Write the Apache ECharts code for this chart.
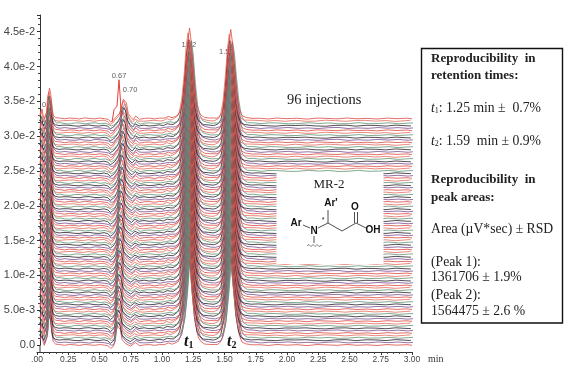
<!DOCTYPE html>
<html><head><meta charset="utf-8">
<style>html,body{margin:0;padding:0;background:#fff}#c{width:572px;height:376px;filter:blur(0.3px)}</style>
<script src="https://cdn.jsdelivr.net/npm/echarts@6/dist/echarts.min.js"></script>
</head><body><div id="c"></div>
<script>
const xTickLabels = {'0.00':'.00','0.25':'0.25','0.50':'0.50','0.75':'0.75','1.00':'1.00','1.25':'1.25','1.50':'1.50','1.75':'1.75','2.00':'2.00','2.25':'2.25','2.50':'2.50','2.75':'2.75','3.00':'3.00'};
const yTickLabels = {'0.000':'0.0','0.005':'5.0e-3','0.010':'1.0e-2','0.015':'1.5e-2','0.020':'2.0e-2','0.025':'2.5e-2','0.030':'3.0e-2','0.035':'3.5e-2','0.040':'4.0e-2','0.045':'4.5e-2'};
// retention time of each sampled point (min)
const times = [
 .024,.03,.04,.05,.058,.07,.08,.09,.10,.11,.12,.13,.15,
 .18,.22,.26,.30,.34,.38,.42,.46,.50,.54,
 .57,.59,.61,.63,.645,.66,.675,.69,.70,.715,.73,.75,
 .77,.79,.82,.86,.90,.94,.98,1.02,1.05,1.08,1.10,
 1.13,1.15,1.17,1.19,1.205,1.22,1.235,1.25,1.27,1.29,1.31,1.34,1.38,
 1.42,1.44,
 1.46,1.48,1.50,1.52,1.535,1.55,1.565,1.58,1.60,1.62,1.64,1.67,1.72,
 1.78,1.85,1.92,2.0,2.08,2.16,2.24,2.32,2.40,2.48,2.56,2.64,2.72,2.80,2.88,2.96,3.0];
// chromatogram signal above baseline, in 1e-5 units
const peakShape = [
 60,90,130,40,-10,-20,110,340,430,350,150,50,10,
 2,0,0,0,0,0,0,0,0,0,
 -15,-45,-30,10,30,70,150,270,300,220,80,15,
 -20,30,-8,0,0,2,3,8,25,15,22,
 55,130,320,700,1080,1300,1080,700,300,120,50,18,6,
 3,8,
 25,90,280,680,1060,1280,1080,760,360,130,45,14,4,
 0,0,0,0,0,0,0,0,0,0,0,0,0,0,0,0,0];
// how strongly the 0.67-0.70 min peak follows the drift list
const earlyWeight = [
 0,0,0,0,0,0,0,0,0,0,0,0,0,
 0,0,0,0,0,0,0,0,0,0,
 0,0,.1,.3,.6,1,1.3,1.4,1.4,1.4,1.4,1.1,
 .6,.1,0,0,0,0,0,0,0,0,0,
 0,0,0,0,0,0,0,0,0,0,0,0,0,
 0,0,
 0,0,0,0,0,0,0,0,0,0,0,0,0,
 0,0,0,0,0,0,0,0,0,0,0,0,0,0,0,0,0];
// baseline noise of five kinds of injection, 1e-5 units
const noiseA = [
 5,-8,10,-4,6,-9,4,-12,8,-6,10,-5,3,
 6,-5,9,3,-8,11,2,-7,8,-3,
 3,-6,4,8,-7,5,-3,9,-4,6,-8,2,
 4,7,-3,2,8,-9,4,-3,6,-4,3,
 -5,8,-9,12,-6,0,10,-8,7,-5,3,-4,2,
 5,-3,
 4,-6,8,-10,6,0,-12,9,-7,5,-4,3,-2,
 5,-8,9,-3,6,-11,8,2,-6,9,-5,3,-9,8,-3,6,-5];
const noiseB = [
 -6,7,-12,5,-3,8,-5,10,-14,7,-8,4,-2,
 -5,8,-3,-9,6,-2,-11,8,3,-6,
 -2,5,-7,3,6,-9,8,-5,12,-7,4,-3,
 -6,2,5,-6,-2,9,-8,6,-7,2,-3,
 6,-4,10,-14,8,-18,5,12,-6,8,-4,5,-3,
 -4,6,
 -5,7,-6,11,-8,-16,7,-10,8,-6,5,-2,4,
 -8,5,-2,11,-6,3,-9,6,11,-8,2,-5,9,-3,8,-6,3];
const noiseC = [
 9,-4,3,-11,7,4,-9,6,14,-10,3,-7,5,
 -2,9,6,-5,-9,5,11,-3,-8,6,
 6,-2,3,-8,9,4,-10,3,-6,9,-2,5,
 -3,-5,4,9,-6,-3,11,-9,3,5,-6,
 3,-9,6,7,-12,-30,-9,6,9,-7,6,-3,4,
 -2,4,
 6,-3,-7,5,10,-25,-6,12,-4,7,-6,4,-1,
 9,-3,-9,6,2,8,-6,-11,5,8,-9,6,3,-8,9,-2,-6];
const noiseD = [
 -3,10,-6,8,-7,-2,7,-8,-16,9,-5,8,-4,
 9,-6,-11,8,5,-9,3,9,-8,2,
 -5,3,6,-4,-2,8,-5,-7,6,3,7,-6,
 5,-2,-6,5,9,-5,-6,8,2,-7,5,
 -4,5,-12,4,14,-10,16,-5,-8,4,-7,2,-5,
 3,-6,
 -2,8,-4,-6,12,-8,18,-5,5,-8,3,-6,5,
 -6,9,5,-8,-5,11,-3,8,-9,-5,11,-6,-3,9,-8,5,8];
const noiseE = [
 2,-5,7,10,-9,5,-3,12,-5,-8,7,2,-6,
 -8,3,8,11,-5,-6,9,-8,5,11,
 4,-7,-3,6,4,-6,7,-12,-6,-4,5,7,
 -2,-8,6,-8,3,8,-5,-9,8,-4,2,
 7,-6,3,-5,9,-14,-7,-10,5,-6,2,6,-2,
 -6,2,
 3,-4,6,4,-9,-10,-8,-7,3,4,-5,-3,6,
 8,-5,6,-9,9,-8,-5,11,3,-9,6,8,-6,5,-11,3,9];
const noiseSets = [noiseA, noiseB, noiseC, noiseD, noiseE];
const peakScales = [1.00, 0.95, 0.97, 0.92, 0.98];
const timeShifts = [0.000, 0.009, -0.009, 0.014, -0.012];
// baseline of each of the 96 injections, bottom to top, 1e-5 units
const baselines = [
 0,36,70,103,138,171,207,240,275,308,343,376,412,446,479,514,548,583,616,651,
 685,718,754,787,822,855,891,924,959,992,1028,1061,1096,1130,1164,1198,1233,1266,1302,1336,
 1370,1403,1439,1472,1507,1541,1575,1609,1644,1677,1713,1746,1781,1815,1849,1883,1918,1951,1987,2020,
 2055,2089,2123,2157,2192,2225,2261,2294,2329,2362,2398,2431,2466,2500,2534,2568,2603,2636,2672,2705,
 2740,2773,2809,2842,2877,2910,2946,2979,3014,3047,3083,3116,3151,3184,3220,3253];
// shift of the 0.67-0.70 min peak per injection, 1e-3 min
const earlyDrift = [
 -35,-35,-34,-35,-34,-33,-34,-33,-33,-32,-33,-32,-31,-32,-31,-30,-31,-30,-30,-29,
 -30,-29,-28,-29,-28,-27,-28,-27,-27,-26,-27,-26,-25,-26,-25,-24,-25,-24,-24,-23,
 -24,-23,-22,-23,-22,-21,-22,-21,-21,-20,-21,-20,-19,-20,-19,-18,-19,-18,-18,-17,
 -18,-17,-16,-15,-16,-15,-14,-15,-14,-13,-14,-13,-12,-11,-12,-11,-10,-9,-10,-9,
 -8,-9,-8,-7,-6,-7,-6,-5,-4,-5,-4,-3,-2,-3,-1,0];
const traceColors = ['#de4a40','#7a4e92','#241e2a','#5f9474','#e66a5c'];
// one injection's extra early peak at 0.67 min (red outlier)
const spikeTimes = [.60,.616,.64,.656,.664,.668,.672];
const spikeValues = [.0320,.0338,.0343,.0381,.0382,.0350,.0329];
// printed apex labels: [time, signal, text]
const apexLabels = [[.056,.0345,'0'],[.656,.0386,'0.67'],[.745,.0366,'0.70'],[1.215,.0431,'1.22'],[1.515,.0421,'1.55']];
const boxLines = [
 {y:59, t:'{b|Reproducibility  in}'},
 {y:76, t:'{b|retention times:}'},
 {y:108,t:'{i|t}{s|1}{r|: 1.25 min ±  0.7%}'},
 {y:141,t:'{i|t}{s|2}{r|: 1.59  min ± 0.9%}'},
 {y:180,t:'{b|Reproducibility  in}'},
 {y:198,t:'{b|peak areas:}'},
 {y:229,t:'{r|Area (µV*sec) ± RSD}'},
 {y:262,t:'{r|(Peak 1):}'},
 {y:277,t:'{r|1361706 ± 1.9%}'},
 {y:295,t:'{r|(Peak 2):}'},
 {y:311,t:'{r|1564475 ± 2.6 %}'}];

const serif = '"Liberation Serif","Times New Roman",serif';
const sans = '"Liberation Sans",Arial,sans-serif';
const series = [];
series.push({type:'scatter',z:1,silent:true,symbolSize:0,animation:false,
  data:apexLabels.map(a=>[a[0],a[1],a[2]]),
  label:{show:true,position:'inside',formatter:p=>p.data[2],fontFamily:sans,fontSize:7.5,color:'#333'}});
baselines.forEach((base,i)=>{
  const v=i%5, noise=noiseSets[v];
  series.push({type:'line',z:2,silent:true,showSymbol:false,animation:false,clip:false,
    lineStyle:{width:0.8,color:traceColors[i%traceColors.length]},
    data:times.map((t,j)=>[
      t+timeShifts[v]*(t>1?1:0.4)+earlyDrift[i]*0.001*earlyWeight[j],
      (base+peakShape[j]*peakScales[v]+noise[j]*0.8)*1e-5])});
});
series.push({type:'line',z:3,silent:true,showSymbol:false,animation:false,
  lineStyle:{width:1,color:'#e0403a'},
  data:spikeTimes.map((t,j)=>[t,spikeValues[j]])});

const g=[];
g.push({type:'rect',z:100,shape:{x:276.5,y:172,width:107,height:92},style:{fill:'#fff'}});
g.push({type:'rect',z:100,shape:{x:421.5,y:48.5,width:141,height:274.5},style:{fill:'#fff',stroke:'#111',lineWidth:1.4}});
g.push({type:'line',z:100,shape:{x1:40,y1:345,x2:40,y2:352},style:{stroke:'#333',lineWidth:1}});
const txt=(x,y,t,extra)=>g.push({type:'text',z:101,x,y,style:Object.assign({text:t,verticalAlign:'middle',fill:'#111'},extra||{})});
txt(287,100,'96 injections',{font:'14.5px '+serif,fill:'#222'});
txt(329,185,'MR-2',{font:'13px '+serif,align:'center',fill:'#222'});
const chem='bold 10px '+sans;
txt(331,203,"Ar'",{font:chem,align:'center'});
txt(296,223,'Ar',{font:chem,align:'center'});
txt(314,231,'N',{font:chem,align:'center'});
txt(355,207,'O',{font:chem,align:'center'});
txt(373,230,'OH',{font:chem,align:'center'});
txt(323,220,'*',{font:'7px '+sans,align:'center'});
[[303,225,310,228],[318,228,328,223],[328,223,328,210],[328,223,342,231],[342,231,356,223],
 [354.5,223,354.5,212],[357.5,223,357.5,212],[356,223,366,228],[314,236,314,243]].forEach(l=>
  g.push({type:'line',z:101,shape:{x1:l[0],y1:l[1],x2:l[2],y2:l[3]},style:{stroke:'#222',lineWidth:0.8}}));
g.push({type:'polyline',z:101,shape:{points:[[307,246],[309,244.5],[311,246.5],[313,244.5],[315,246.5],[317,244.5],[319,246.5],[322,245]]},style:{stroke:'#333',lineWidth:0.6,fill:null}});
const tRich={a:{font:'italic bold 16px '+serif,fill:'#111'},s:{font:'bold 10px '+serif,fill:'#111',verticalAlign:'bottom',padding:[7,0,0,0]}};
g.push({type:'text',z:101,x:184,y:342,style:{text:'{a|t}{s|1}',rich:tRich,verticalAlign:'middle'}});
g.push({type:'text',z:101,x:227,y:342,style:{text:'{a|t}{s|2}',rich:tRich,verticalAlign:'middle'}});
const boxRich={b:{font:'bold 13px '+serif,fill:'#222'},r:{font:'13.7px '+serif,fill:'#222'},i:{font:'italic 13.7px '+serif,fill:'#222'},s:{font:'8px '+serif,fill:'#222',padding:[6,0,0,0]}};
boxLines.forEach(l=>g.push({type:'text',z:101,x:431,y:l.y,style:{text:l.t,rich:boxRich,verticalAlign:'middle'}}));

const chart=echarts.init(document.getElementById('c'),null,{renderer:'canvas'});
chart.setOption({
  animation:false,backgroundColor:'#fff',
  grid:{left:37,right:160,top:15,bottom:31,containLabel:false},
  xAxis:{type:'value',min:0,max:3,interval:.25,offset:7,
    name:'min',nameLocation:'end',nameGap:16,nameTextStyle:{fontFamily:serif,fontSize:10,color:'#333',verticalAlign:'top',padding:[2,0,0,0]},
    axisLine:{onZero:false,lineStyle:{color:'#333',width:1}},
    axisTick:{length:3,lineStyle:{color:'#333'}},minorTick:{show:true,splitNumber:5,length:2,lineStyle:{color:'#444'}},
    splitLine:{show:false},
    axisLabel:{margin:3,fontFamily:sans,fontSize:8.5,color:'#444',formatter:v=>xTickLabels[v.toFixed(2)]}},
  yAxis:{type:'value',min:0,max:.0474,interval:.005,offset:-3,
    axisLine:{onZero:false,lineStyle:{color:'#333',width:1}},
    axisTick:{length:3,lineStyle:{color:'#333'}},minorTick:{show:true,splitNumber:5,length:2,lineStyle:{color:'#444'}},
    splitLine:{show:false},
    axisLabel:{margin:5,fontFamily:sans,fontSize:11,color:'#444',formatter:v=>yTickLabels[v.toFixed(3)]}},
  series,graphic:{elements:g}
});
</script></body></html>
